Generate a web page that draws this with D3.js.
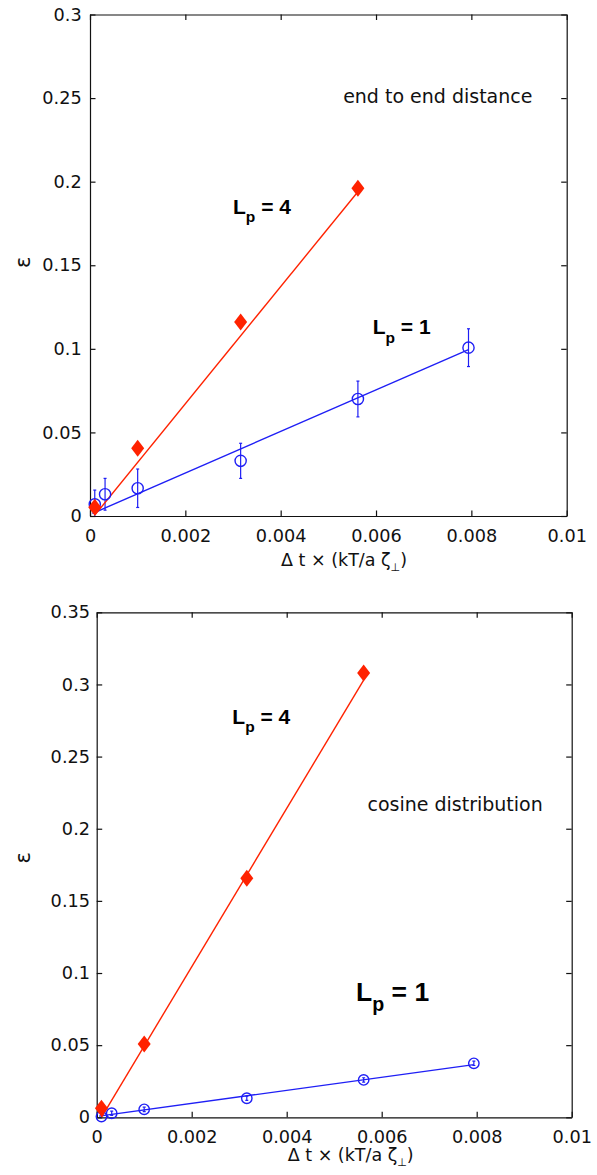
<!DOCTYPE html>
<html>
<head>
<meta charset="utf-8">
<script src="https://cdn.jsdelivr.net/npm/d3@7"></script>
<style>
body { margin: 0; background: #fff; }
</style>
</head>
<body>
<script>
// time steps (x values), red = Lp 4, blue = Lp 1
var dtRed = [0.0001, 0.001, 0.00316, 0.00562];
var dtBlue = [0.0001, 0.000316, 0.001, 0.00316, 0.00562, 0.00794];

// end to end distance panel
var endRed = [0.0052, 0.0405, 0.116, 0.196];
var endBlue = [0.007, 0.013, 0.0166, 0.033, 0.070, 0.1007];
var endBlueErr = [0.0085, 0.0095, 0.0115, 0.0105, 0.0107, 0.0113];
var endFitRedX = [0.0001, 0.00562], endFitRedY = [0.0005, 0.194];
var endFitBlueX = [0.00005, 0.00794], endFitBlueY = [0.0015, 0.0995];

// cosine distribution panel
var cosRed = [0.0062, 0.0508, 0.1657, 0.308];
var cosBlue = [0.0005, 0.0028, 0.0055, 0.0132, 0.0259, 0.0374];
var cosBlueErr = [0.0015, 0.0015, 0.0015, 0.0015, 0.0015, 0.0015];
var cosFitRedX = [0.0001, 0.00562], cosFitRedY = [0.0, 0.303];
var cosFitBlueX = [0.00005, 0.00794], cosFitBlueY = [0.0008, 0.0365];

// ticks
var xTicks = [0, 0.002, 0.004, 0.006, 0.008, 0.01];
var xTickLabels = ["0", "0.002", "0.004", "0.006", "0.008", "0.01"];
var yTicksEnd = [0, 0.05, 0.1, 0.15, 0.2, 0.25, 0.3];
var yTickLabelsEnd = ["0", "0.05", "0.1", "0.15", "0.2", "0.25", "0.3"];
var yTicksCos = [0, 0.05, 0.1, 0.15, 0.2, 0.25, 0.3, 0.35];
var yTickLabelsCos = ["0", "0.05", "0.1", "0.15", "0.2", "0.25", "0.3", "0.35"];

var RED = "#ff2200", BLUE = "#1f1ff5";
var tickFont = "'DejaVu Sans', sans-serif";
var labelFont = "'Liberation Sans', Arial, sans-serif";

var svg = d3.select("body").append("svg")
    .attr("width", 597)
    .attr("height", 1175);

var panels = [
    {
        left: 90, top: 14.5, right: 566.7, bottom: 516, yMax: 0.3,
        yTicks: yTicksEnd, yLabels: yTickLabelsEnd, yPad: 8.3,
        red: endRed, blue: endBlue, err: endBlueErr,
        fitRX: endFitRedX, fitRY: endFitRedY, fitBX: endFitBlueX, fitBY: endFitBlueY,
        r: 5.6,
        title: "end to end distance", titleX: 0.00531, titleY: 0.247,
        lp4: [0.003, 0.1806, 21], lp1: [0.00593, 0.1087, 21],
        xlabOff: 50, epsOff: -3
    },
    {
        left: 96.7, top: 612.3, right: 571.7, bottom: 1117.3, yMax: 0.35,
        yTicks: yTicksCos, yLabels: yTickLabelsCos, yPad: 6.7,
        red: cosRed, blue: cosBlue, err: cosBlueErr,
        fitRX: cosFitRedX, fitRY: cosFitRedY, fitBX: cosFitBlueX, fitBY: cosFitBlueY,
        r: 5.2,
        title: "cosine distribution", titleX: 0.0057, titleY: 0.212,
        lp4: [0.002855, 0.2727, 21], lp1: [0.00546, 0.0809, 26.5],
        xlabOff: 44, epsOff: -7
    }
];

panels.forEach(function(p, k){
    var x = d3.scaleLinear().domain([0, 0.01]).range([p.left, p.right]);
    var y = d3.scaleLinear().domain([0, p.yMax]).range([p.bottom, p.top]);
    var g = svg.append("g");

    //clip lines and error bars to the axes box
    svg.append("clipPath").attr("id", "clip" + k)
        .append("rect")
        .attr("x", p.left).attr("y", p.top)
        .attr("width", p.right - p.left).attr("height", p.bottom - p.top);

    //box axes with inward ticks
    var xb = g.append("g").attr("transform", "translate(0," + p.bottom + ")")
        .call(d3.axisBottom(x).tickValues(xTicks)
            .tickFormat(function(d, i){ return xTickLabels[i]; })
            .tickSizeInner(-5.5).tickSizeOuter(0).tickPadding(13.5));
    var yl = g.append("g").attr("transform", "translate(" + p.left + ",0)")
        .call(d3.axisLeft(y).tickValues(p.yTicks)
            .tickFormat(function(d, i){ return p.yLabels[i]; })
            .tickSizeInner(-5.5).tickSizeOuter(0).tickPadding(p.yPad));
    var xt = g.append("g").attr("transform", "translate(0," + p.top + ")")
        .call(d3.axisTop(x).tickValues(xTicks).tickFormat("")
            .tickSizeInner(-5.5).tickSizeOuter(0));
    var yr = g.append("g").attr("transform", "translate(" + p.right + ",0)")
        .call(d3.axisRight(y).tickValues(p.yTicks).tickFormat("")
            .tickSizeInner(-5.5).tickSizeOuter(0));

    [xb, yl, xt, yr].forEach(function(a){
        a.selectAll("path, line").attr("stroke", "#111").attr("stroke-width", 1.2);
        a.selectAll("text").attr("font-family", tickFont).attr("font-size", 17.7)
            .attr("fill", "#111");
    });

    var plot = g.append("g").attr("clip-path", "url(#clip" + k + ")");

    //blue fit line
    var line = d3.line().x(function(d){ return x(d[0]); }).y(function(d){ return y(d[1]); });
    plot.append("path")
        .datum(d3.zip(p.fitBX, p.fitBY))
        .attr("d", line)
        .attr("fill", "none").attr("stroke", BLUE).attr("stroke-width", 1.4);

    //blue error bars
    var bdata = d3.zip(dtBlue, p.blue, p.err);
    var eb = plot.selectAll(".err").data(bdata).enter().append("g").attr("class", "err");
    eb.append("line")
        .attr("x1", function(d){ return x(d[0]); })
        .attr("x2", function(d){ return x(d[0]); })
        .attr("y1", function(d){ return y(d[1] - d[2]); })
        .attr("y2", function(d){ return y(d[1] + d[2]); })
        .attr("stroke", BLUE).attr("stroke-width", 1.2);
    eb.selectAll(".cap")
        .data(function(d){ return [[d[0], d[1] - d[2]], [d[0], d[1] + d[2]]]; })
        .enter().append("line")
        .attr("x1", function(d){ return x(d[0]) - 1.5; })
        .attr("x2", function(d){ return x(d[0]) + 1.5; })
        .attr("y1", function(d){ return y(d[1]); })
        .attr("y2", function(d){ return y(d[1]); })
        .attr("stroke", BLUE).attr("stroke-width", 1.2);

    //blue circles (markers are not clipped)
    g.selectAll(".circ").data(bdata).enter().append("circle")
        .attr("class", "circ")
        .attr("cx", function(d){ return x(d[0]); })
        .attr("cy", function(d){ return y(d[1]); })
        .attr("r", p.r)
        .attr("fill", "none").attr("stroke", BLUE).attr("stroke-width", 1.4);

    //red fit line
    plot.append("path")
        .datum(d3.zip(p.fitRX, p.fitRY))
        .attr("d", line)
        .attr("fill", "none").attr("stroke", RED).attr("stroke-width", 1.4);

    //red diamonds
    g.selectAll(".dia").data(d3.zip(dtRed, p.red)).enter().append("path")
        .attr("class", "dia")
        .attr("d", "M0,-8.5L6.5,0L0,8.5L-6.5,0Z")
        .attr("transform", function(d){ return "translate(" + x(d[0]) + "," + y(d[1]) + ")"; })
        .attr("fill", RED);

    //annotations
    g.append("text")
        .attr("x", x(p.titleX)).attr("y", y(p.titleY))
        .attr("font-family", tickFont).attr("font-size", 19)
        .attr("fill", "#111")
        .text(p.title);

    [[p.lp4, "4"], [p.lp1, "1"]].forEach(function(l){
        var fs = l[0][2];
        var t = g.append("text")
            .attr("x", x(l[0][0])).attr("y", y(l[0][1]))
            .attr("font-family", labelFont).attr("font-weight", "bold")
            .attr("font-size", fs).attr("fill", "#000");
        t.append("tspan").text("L");
        t.append("tspan").attr("font-size", fs * 0.74).attr("dy", fs * 0.4).text("p");
        t.append("tspan").attr("dy", -fs * 0.4).text(" = " + l[1]);
    });

    //x label
    var xl = g.append("text")
        .attr("x", p.left + 191).attr("y", p.bottom + p.xlabOff)
        .attr("font-family", tickFont).attr("font-size", 17.5)
        .attr("fill", "#111");
    xl.append("tspan").text("\u0394 t \u00d7 (kT/a \u03b6");
    xl.append("tspan").attr("font-size", 11).attr("dy", 5).text("\u22a5");
    xl.append("tspan").attr("dy", -5).text(")");

    //y label
    g.append("text")
        .attr("transform", "translate(" + 30 + "," + ((p.top + p.bottom) / 2 + p.epsOff) + ") rotate(-90)")
        .attr("text-anchor", "middle")
        .attr("font-family", tickFont).attr("font-size", 21)
        .attr("fill", "#111")
        .text("\u03b5");
});
</script>
</body>
</html>
